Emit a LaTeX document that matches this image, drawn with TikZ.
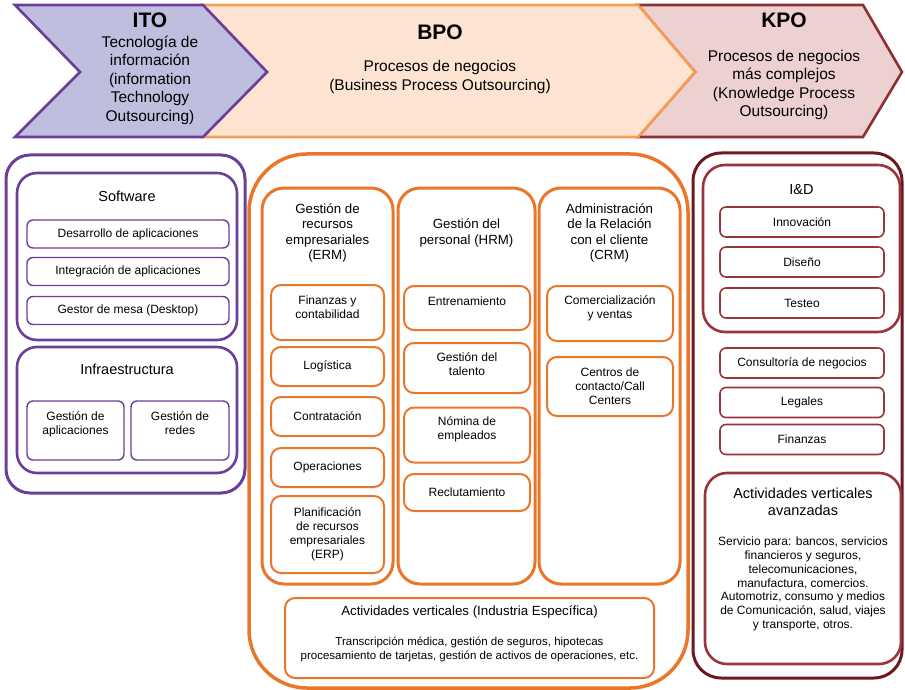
\documentclass[tikz,border=0pt]{standalone}
\usepackage{fontspec}
\setmainfont{Liberation Sans}

\definecolor{itoline}{RGB}{106,62,154}
\definecolor{itofill}{RGB}{191,190,222}
\definecolor{bpoarrow}{RGB}{248,158,84}
\definecolor{bpoline}{RGB}{234,118,42}
\definecolor{bpofill}{RGB}{253,228,210}
\definecolor{kpoarrow}{RGB}{140,48,52}
\definecolor{kpoline}{RGB}{152,52,58}
\definecolor{kpodark}{RGB}{110,24,34}
\definecolor{kpofill}{RGB}{237,209,209}

\newcommand\boxtxt{\fontsize{12}{14}\selectfont}
\newcommand\grptxt{\fontsize{14.5}{17}\selectfont}
\newcommand\coltxt{\fontsize{13.3}{15.5}\selectfont}
\newcommand\hdrtxt{\fontsize{15.5}{18.5}\selectfont}
\newcommand\bigtxt{\fontsize{21}{24}\selectfont\bfseries}

\tikzset{
  every node/.style={align=center, inner sep=1pt},
  chevron/.style={line width=2.6pt, line join=miter},
  raised/.style={text depth=#1},
  itoouter/.style={draw=itoline, line width=3pt, rounded corners=24pt},
  itogroup/.style={draw=itoline, line width=2.6pt, rounded corners=20pt},
  itoitem/.style={draw=itoline, line width=1.4pt, rounded corners=6pt, font=\boxtxt},
  bpoouter/.style={draw=bpoline, line width=3.5pt, rounded corners=58pt},
  bpocol/.style={draw=bpoline, line width=3pt, rounded corners=22pt},
  bpoitem/.style={draw=bpoline, line width=2pt, rounded corners=10pt, font=\boxtxt},
  kpoouter/.style={draw=kpodark, line width=3pt, rounded corners=28pt},
  kpogroup/.style={draw=kpoline, line width=2.6pt, rounded corners=22pt},
  kpoitem/.style={draw=kpoline, line width=1.6pt, rounded corners=6pt, font=\boxtxt},
}

\begin{document}
\begin{tikzpicture}[x=1pt, y=-1pt]
\useasboundingbox (0,0) rectangle (905,690);

% banner
\draw[chevron, draw=kpoarrow, fill=kpofill] (638,5) -- (863,5) -- (902,72) -- (863,137) -- (638,137) -- (695,72) -- cycle;
\draw[chevron, draw=bpoarrow, fill=bpofill] (203,5) -- (638,5) -- (695,72) -- (638,137) -- (203,137) -- (267,72) -- cycle;
\draw[chevron, draw=itoline, fill=itofill] (15,5) -- (203,5) -- (267,72) -- (203,137) -- (15,137) -- (80,72) -- cycle;

\node[font=\bigtxt] (itot) at (150,20) {ITO};
\node[font=\hdrtxt] (itod) at (150,80) {Tecnología de\\información\\(information\\Technology\\Outsourcing)};
\node[font=\bigtxt] (bpot) at (440,32) {BPO};
\node[font=\hdrtxt] (bpod) at (440,77) {Procesos de negocios\\(Business Process Outsourcing)};
\node[font=\bigtxt] (kpot) at (784,20) {KPO};
\node[font=\hdrtxt] (kpod) at (784,85) {Procesos de negocios\\más complejos\\(Knowledge Process\\Outsourcing)};

% ITO
\node[itoouter, minimum width=239, minimum height=338] (ito) at (125.5,324) {};
\node[itogroup, minimum width=220, minimum height=167] (software) at (127,256.5) {};
\node[font=\grptxt] (softwaret) at (127,196) {Software};
\foreach \name/\y/\txt in {desarrollo/234/Desarrollo de aplicaciones,
    integracion/271.5/Integración de aplicaciones,
    gestor/310.5/Gestor de mesa (Desktop)}
  \node[itoitem, minimum width=202, minimum height=28] (\name) at (128,\y) {\txt};
\node[itogroup, minimum width=220, minimum height=126] (infra) at (127,410) {};
\node[font=\grptxt] (infrat) at (127,369) {Infraestructura};
\node[itoitem, raised=15pt, minimum width=97, minimum height=59] (gestapl) at (75.5,430.5) {Gestión de\\aplicaciones};
\node[itoitem, raised=15pt, minimum width=98, minimum height=59] (gestred) at (180,430.5) {Gestión de\\redes};

% BPO
\node[bpoouter, minimum width=439, minimum height=534] (bpo) at (468.5,421) {};
\foreach \name/\x/\w/\txt in {erm/327.5/131/Gestión de\\recursos\\empresariales\\(ERM),
    hrm/466.5/137/Gestión del\\personal (HRM),
    crm/609.5/141/Administración\\de la Relación\\con el cliente\\(CRM)}
{
  \node[bpocol, minimum width=\w, minimum height=396] (\name) at (\x,386) {};
  \node[font=\coltxt] (\name t) at (\x,233) {\txt};
}
\node[bpoitem, raised=10pt, minimum width=113, minimum height=55] (finanzas) at (327.5,312.5) {Finanzas y\\contabilidad};
\node[bpoitem, minimum width=113, minimum height=39] (logistica) at (327.5,366.5) {Logística};
\node[bpoitem, minimum width=113, minimum height=39] (contratacion) at (327.5,416.5) {Contratación};
\node[bpoitem, minimum width=113, minimum height=39] (operaciones) at (327.5,467.5) {Operaciones};
\node[bpoitem, minimum width=113, minimum height=77] (erp) at (327.5,534.5) {Planificación\\de recursos\\empresariales\\(ERP)};
\node[bpoitem, raised=14pt, minimum width=126, minimum height=44] (entrenamiento) at (467,308) {Entrenamiento};
\node[bpoitem, raised=8pt, minimum width=126, minimum height=50] (talento) at (467,368) {Gestión del\\talento};
\node[bpoitem, raised=13pt, minimum width=126, minimum height=55] (nomina) at (467,435) {Nómina de\\empleados};
\node[bpoitem, minimum width=126, minimum height=37] (reclutamiento) at (467,492.5) {Reclutamiento};
\node[bpoitem, raised=12pt, minimum width=126, minimum height=55] (ventas) at (610,313.5) {Comercialización\\y ventas};
\node[bpoitem, minimum width=126, minimum height=59] (centros) at (610,386.5) {Centros de\\contacto/Call\\Centers};
\node[bpoitem, minimum width=369, minimum height=80] (vertical) at (469.5,638) {};
\node[font=\coltxt] (verticalt) at (469.5,612) {Actividades verticales (Industria Específica)};
\node[font=\fontsize{11.5}{14}\selectfont] (verticald) at (469.5,649) {Transcripción médica, gestión de seguros, hipotecas\\procesamiento de tarjetas, gestión de activos de operaciones, etc.};

% KPO
\node[kpoouter, minimum width=209, minimum height=525] (kpo) at (797.5,415.5) {};
\node[kpogroup, minimum width=197, minimum height=167] (iyd) at (801.5,248.5) {};
\node[font=\grptxt] (iydt) at (801.5,190) {I\&D};
\foreach \name/\y/\txt in {innovacion/222/Innovación, diseno/262/Diseño, testeo/303/Testeo,
    consultoria/363/Consultoría de negocios, legales/402.5/Legales, kfinanzas/439.5/Finanzas}
  \node[kpoitem, minimum width=164, minimum height=30] (\name) at (802,\y) {\txt};
\node[kpogroup, minimum width=196, minimum height=191] (avanzadas) at (803,568.5) {};
\node[font=\grptxt] (avanzadast) at (803,501.5) {Actividades verticales\\avanzadas};
\node[font=\fontsize{12}{13.8}\selectfont] (avanzadasd) at (803,584) {Servicio para: bancos, servicios\\financieros y seguros,\\telecomunicaciones,\\manufactura, comercios.\\Automotriz, consumo y medios\\de Comunicación, salud, viajes\\y transporte, otros.};
\end{tikzpicture}
\end{document}
